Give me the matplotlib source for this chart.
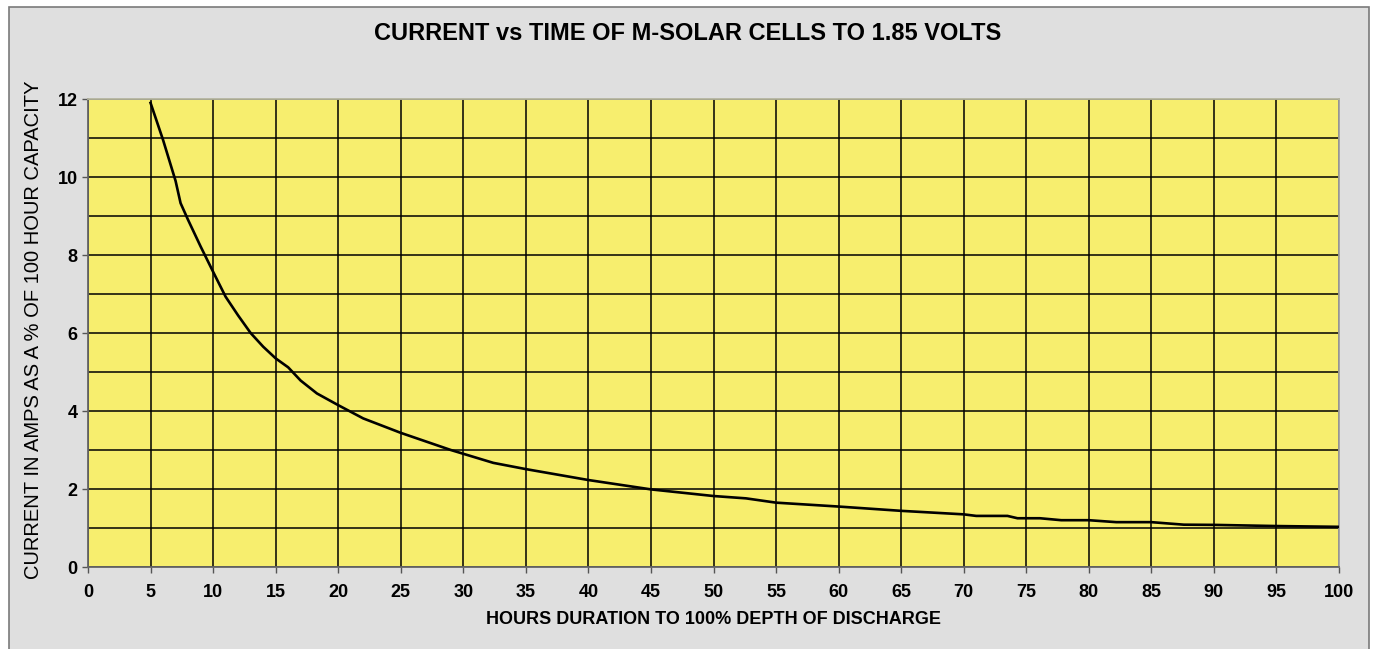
import matplotlib.pyplot as plt
import matplotlib.patches as patches
import numpy as np

# hours to 100% depth of discharge vs current (% of 100 hour capacity)
hours = [5, 6, 7, 7.4, 8, 9, 10, 11, 12, 13, 14, 15, 16, 17, 18.3, 20, 22, 25,
         29, 32.4, 35, 40, 45, 50, 52.6, 55, 60, 65, 70, 71, 73.5, 74.3, 76.1,
         77.8, 80, 82.2, 85, 87.6, 90, 95, 100]
current = [11.9, 10.95, 9.9, 9.33, 8.9, 8.22, 7.57, 6.93, 6.45, 6.0, 5.65, 5.35,
           5.12, 4.78, 4.45, 4.15, 3.81, 3.44, 3.0, 2.67, 2.51, 2.23, 1.99,
           1.82, 1.76, 1.65, 1.55, 1.44, 1.35, 1.31, 1.31, 1.25, 1.25, 1.2,
           1.2, 1.15, 1.15, 1.085, 1.08, 1.05, 1.03]

x_ticks = np.arange(0, 101, 5)
y_ticks = np.arange(0, 13, 2)

plt.rcParams['font.family'] = ['Liberation Sans', 'DejaVu Sans']

fig = plt.figure(figsize=(13.76, 6.49), dpi=100, facecolor='white')
frame = patches.Rectangle((9 / 1376, -0.02), 1360 / 1376, 1 - 7 / 649 + 0.02,
                          transform=fig.transFigure, facecolor='#dfdfdf',
                          edgecolor='#7a7a7a', linewidth=1.2, zorder=-10)
fig.patches.append(frame)

ax = fig.add_axes([88 / 1376, 1 - 567 / 649, (1339 - 88) / 1376, (567 - 99) / 649])
ax.set_facecolor('#f7ee6e')

ax.plot(hours, current, color='black', linewidth=1.9, zorder=3)

ax.set_xlim(0, 100)
ax.set_ylim(0, 12)
ax.set_xticks(x_ticks)
ax.set_yticks(y_ticks)
ax.set_yticks(np.arange(1, 12, 2), minor=True)
ax.tick_params(axis='y', which='minor', length=0)
ax.tick_params(axis='both', which='major', length=4, width=1, color='#555555',
               labelsize=13)
ax.tick_params(axis='x', which='major', pad=8)
for lab in ax.get_xticklabels() + ax.get_yticklabels():
    lab.set_fontweight('bold')

ax.grid(True, which='both', color='black', linewidth=1.1, zorder=1)
ax.set_axisbelow(True)

ax.spines['left'].set_color('#666666')
ax.spines['bottom'].set_color('#666666')
ax.spines['top'].set_color('#b5b5a0')
ax.spines['right'].set_color('#a0a0a0')
for s in ax.spines.values():
    s.set_linewidth(1.3)

fig.text(688 / 1376, 1 - 33 / 649, 'CURRENT vs TIME OF M-SOLAR CELLS TO 1.85 VOLTS',
         fontsize=17, fontweight='bold', ha='center', va='center')
fig.text(713 / 1376, 1 - 620 / 649, 'HOURS DURATION TO 100% DEPTH OF DISCHARGE',
         fontsize=13, fontweight='bold', ha='center', va='center')
fig.text(34 / 1376, 1 - 330 / 649, 'CURRENT IN AMPS AS A % OF 100 HOUR CAPACITY',
         fontsize=14.5, rotation=90, ha='center', va='center')

plt.savefig('out.png', dpi=100)
plt.close()
